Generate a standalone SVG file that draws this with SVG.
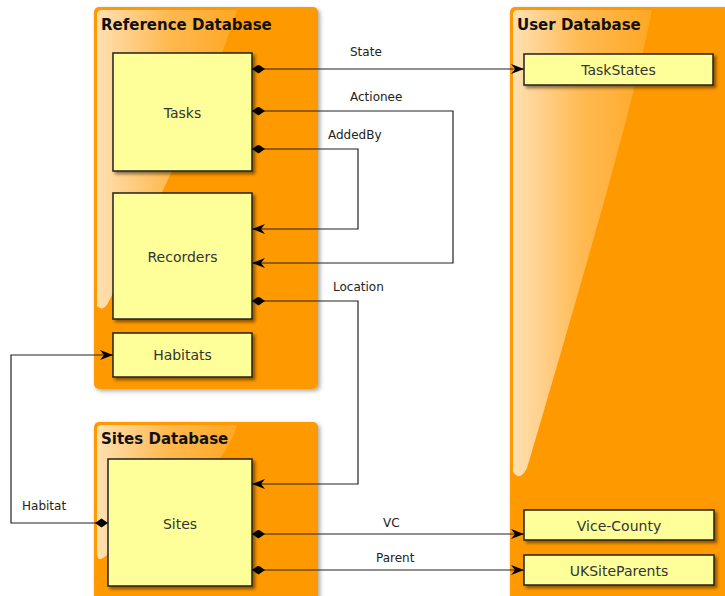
<svg xmlns="http://www.w3.org/2000/svg" width="725" height="596" viewBox="0 0 725 596">
  <defs>
    <linearGradient id="gloss" x1="0" y1="0" x2="1" y2="0">
      <stop offset="0" stop-color="#ffffff" stop-opacity="0.7"/>
      <stop offset="0.5" stop-color="#ffffff" stop-opacity="0.32"/>
      <stop offset="1" stop-color="#ffffff" stop-opacity="0.14"/>
    </linearGradient>
    <filter id="pkgShadow" x="-10%" y="-10%" width="130%" height="130%">
      <feDropShadow dx="2" dy="2" stdDeviation="2" flood-color="#000" flood-opacity="0.35"/>
    </filter>
    <filter id="boxShadow" x="-10%" y="-10%" width="130%" height="130%">
      <feDropShadow dx="2.5" dy="2.5" stdDeviation="1.5" flood-color="#000" flood-opacity="0.45"/>
    </filter>
    <marker id="diamond" markerWidth="14" markerHeight="10" refX="0" refY="4.5" orient="auto" markerUnits="userSpaceOnUse">
      <path d="M0,4.5 L6.5,0 L13,4.5 L6.5,9 Z" fill="#000"/>
    </marker>
    <marker id="arrow" markerWidth="14" markerHeight="11" refX="13" refY="5" orient="auto" markerUnits="userSpaceOnUse">
      <path d="M0,0 L13,5 L0,10 L4,5 Z" fill="#000"/>
    </marker>
  </defs>
  <style>
    .pkg { fill: #ff9900; }
    .pkgTitle { font-family: "DejaVu Sans", sans-serif; font-weight: bold; font-size: 15px; fill: #111; }
    .box { fill: #ffff99; stroke: #222; stroke-width: 1.5; }
    .boxLabel { font-family: "DejaVu Sans", sans-serif; font-size: 14px; fill: #333; text-anchor: middle; }
    .edge { fill: none; stroke: #222; stroke-width: 1.2; }
    .edgeLabel { font-family: "DejaVu Sans", sans-serif; font-size: 12px; fill: #222; }
  </style>

  <rect width="725" height="596" fill="#ffffff"/>

  <!-- Packages -->
  <g id="pkg-reference">
    <rect class="pkg" x="94" y="7" width="224" height="382" rx="5" filter="url(#pkgShadow)"/>
    <path d="M102,10 L237,10 C215,80 170,180 108,303 Q103,312 97,306 L97,15 Q97,10 102,10 Z" fill="url(#gloss)"/>
    <text class="pkgTitle" x="101" y="30">Reference Database</text>
  </g>
  <g id="pkg-user">
    <rect class="pkg" x="510" y="7" width="240" height="620" rx="5" filter="url(#pkgShadow)"/>
    <path d="M518,10 L652,10 C635,90 615,170 527,468 Q520,482 513,472 L513,15 Q513,10 518,10 Z" fill="url(#gloss)"/>
    <text class="pkgTitle" x="517" y="30">User Database</text>
  </g>
  <g id="pkg-sites">
    <rect class="pkg" x="94" y="422" width="224" height="200" rx="5" filter="url(#pkgShadow)"/>
    <path d="M102,425 L237,425 C225,470 160,520 103,558 Q97,562 97,552 L97,430 Q97,425 102,425 Z" fill="url(#gloss)"/>
    <text class="pkgTitle" x="101" y="444">Sites Database</text>
  </g>

  <!-- Tables -->
  <g id="tasks">
    <rect class="box" x="113" y="53" width="139" height="118" filter="url(#boxShadow)"/>
    <text class="boxLabel" x="182.5" y="118">Tasks</text>
  </g>
  <g id="recorders">
    <rect class="box" x="113" y="193" width="139" height="126" filter="url(#boxShadow)"/>
    <text class="boxLabel" x="182.5" y="262">Recorders</text>
  </g>
  <g id="habitats">
    <rect class="box" x="113" y="333" width="139" height="44" filter="url(#boxShadow)"/>
    <text class="boxLabel" x="182.5" y="360">Habitats</text>
  </g>
  <g id="sites">
    <rect class="box" x="108" y="459" width="144" height="127" filter="url(#boxShadow)"/>
    <text class="boxLabel" x="180" y="529">Sites</text>
  </g>
  <g id="taskstates">
    <rect class="box" x="524" y="54" width="189" height="31" filter="url(#boxShadow)"/>
    <text class="boxLabel" x="618.5" y="75">TaskStates</text>
  </g>
  <g id="vice-county">
    <rect class="box" x="524" y="510" width="190" height="30" filter="url(#boxShadow)"/>
    <text class="boxLabel" x="619" y="531">Vice-County</text>
  </g>
  <g id="uksiteparents">
    <rect class="box" x="524" y="555" width="190" height="30" filter="url(#boxShadow)"/>
    <text class="boxLabel" x="619" y="576">UKSiteParents</text>
  </g>

  <!-- Relations -->
  <g id="connectors">
    <path class="edge" d="M252,69 L524,69" marker-start="url(#diamond)" marker-end="url(#arrow)"/>
    <text class="edgeLabel" x="350" y="56">State</text>

    <path class="edge" d="M252,111 L453,111 L453,263 L252,263" marker-start="url(#diamond)" marker-end="url(#arrow)"/>
    <text class="edgeLabel" x="350" y="101">Actionee</text>

    <path class="edge" d="M252,149 L358,149 L358,229 L252,229" marker-start="url(#diamond)" marker-end="url(#arrow)"/>
    <text class="edgeLabel" x="328" y="139">AddedBy</text>

    <path class="edge" d="M252,301 L358,301 L358,484 L252,484" marker-start="url(#diamond)" marker-end="url(#arrow)"/>
    <text class="edgeLabel" x="333" y="291">Location</text>

    <path class="edge" d="M108,523 L11,523 L11,355 L113,355" marker-start="url(#diamond)" marker-end="url(#arrow)"/>
    <text class="edgeLabel" x="22" y="510">Habitat</text>

    <path class="edge" d="M252,534 L524,534" marker-start="url(#diamond)" marker-end="url(#arrow)"/>
    <text class="edgeLabel" x="383" y="527">VC</text>

    <path class="edge" d="M252,570 L524,570" marker-start="url(#diamond)" marker-end="url(#arrow)"/>
    <text class="edgeLabel" x="376" y="562">Parent</text>
  </g>
</svg>
